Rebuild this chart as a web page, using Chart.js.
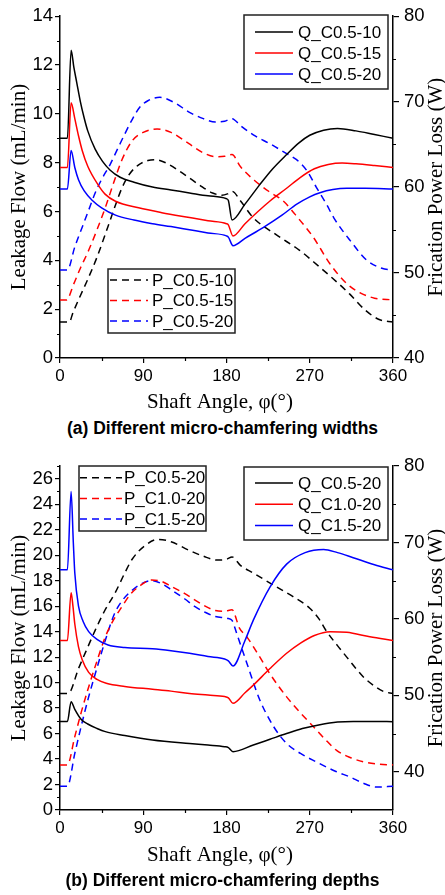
<!DOCTYPE html>
<html><head><meta charset="utf-8">
<script src="https://cdn.jsdelivr.net/npm/chart.js@4.4.1/dist/chart.umd.min.js"></script>
<style>
html,body{margin:0;padding:0;background:#fff;}
#wrap{position:relative;width:445px;height:895px;overflow:hidden;background:#fff;}
canvas{position:absolute;left:0;}
#ca{top:0;width:445px;height:415px;}
#cb{top:445px;width:445px;height:450px;}
.cap{position:absolute;left:0;width:445px;text-align:center;font:bold 17.5px "Liberation Sans",Arial,sans-serif;color:#000;line-height:20px;z-index:2;}
</style></head>
<body><div id="wrap">
<canvas id="ca" width="445" height="415"></canvas>
<div class="cap" style="top:418px">(a) Different micro-chamfering widths</div>
<canvas id="cb" width="445" height="450"></canvas>
<div class="cap" style="top:870px">(b) Different micro-chamfering depths</div>
</div>
<script>
// ---------- data: [shaft angle (deg), value] ----------
// chart (a) leakage flow (mL/min)
const Q_C05_10 = [[0,9.0],[8,9.0],[12,12.6],[15,11.9],[18,11.3],[22,10.5],[26,9.85],[30,9.3],[38,8.55],[46,8.05],[54,7.7],[65,7.4],[80,7.2],[100,7.0],[120,6.88],[140,6.76],[160,6.64],[180,6.52],[182,6.45],[186,5.65],[200,6.3],[216,7.1],[230,7.75],[245,8.33],[258,8.8],[270,9.12],[285,9.33],[300,9.4],[320,9.3],[340,9.15],[360,9.0]];
const Q_C05_15 = [[0,7.8],[8,7.8],[12,10.45],[16,9.8],[20,9.1],[24,8.5],[30,7.85],[41,7.1],[49,6.7],[60,6.42],[85,6.15],[110,5.95],[140,5.75],[160,5.62],[180,5.5],[182,5.45],[187,5.0],[200,5.5],[227,6.43],[245,6.95],[260,7.4],[275,7.75],[290,7.92],[305,7.98],[320,7.95],[340,7.88],[360,7.8]];
const Q_C05_20 = [[0,6.92],[8,6.92],[12,8.5],[16,7.8],[20,7.3],[26,6.85],[35,6.45],[45,6.15],[60,5.85],[80,5.65],[100,5.5],[120,5.38],[140,5.25],[160,5.12],[180,5.0],[182,4.95],[187,4.6],[200,4.9],[220,5.35],[240,5.85],[256,6.3],[270,6.6],[281,6.77],[295,6.9],[310,6.95],[330,6.95],[360,6.92]];
// chart (a) friction power loss (W)
const P_C05_10 = [[0,44.2],[10,44.2],[14,45.3],[20,46.8],[30,49.2],[40,51.8],[50,54.8],[60,57.9],[67,59.9],[75,61.5],[85,62.6],[95,63.1],[103,63.2],[115,62.8],[130,61.8],[150,60.3],[165,59.3],[175,59.05],[181,59.2],[186,59.5],[195,58.4],[209,56.4],[234,54.4],[259,52.6],[280,50.7],[295,49.3],[313,47.5],[330,45.6],[345,44.5],[360,44.2]];
const P_C05_15 = [[0,46.8],[7,46.8],[15,48.7],[22,50.5],[31,52.6],[40,55.0],[49,57.6],[58,60.5],[67,63.2],[78,65.4],[90,66.4],[105,66.8],[120,66.4],[139,65.1],[155,64.0],[168,63.55],[178,63.6],[186,63.8],[195,62.4],[210,60.8],[227,59.4],[241,58.4],[258,56.3],[274,54.1],[292,51.0],[310,48.7],[325,47.6],[340,47.0],[360,46.8]];
const P_C05_20 = [[0,50.3],[8,50.3],[16,53.0],[24,55.3],[31,57.3],[38,59.3],[45,60.9],[54,62.6],[62,64.4],[70,66.2],[78,67.9],[86,69.3],[95,70.1],[108,70.5],[125,69.8],[139,68.8],[155,68.0],[168,67.6],[178,67.7],[186,68.0],[195,67.2],[209,66.1],[228,65.0],[245,63.9],[258,63.0],[267,61.9],[277,60.0],[288,58.0],[296,56.4],[314,53.7],[332,51.4],[348,50.5],[360,50.3]];
// chart (b) leakage flow (mL/min)
const Q_C05_20b = [[0,6.95],[8,6.95],[12,8.5],[16,7.9],[23,7.1],[30,6.75],[40,6.4],[49,6.15],[70,5.85],[100,5.5],[140,5.22],[160,5.1],[178,4.97],[182,4.9],[187,4.58],[209,5.1],[227,5.55],[245,6.0],[262,6.4],[281,6.7],[300,6.9],[317,6.95],[340,6.95],[360,6.93]];
const Q_C10_20 = [[0,13.3],[8,13.3],[12,17.05],[14,16.0],[16,14.6],[20,12.8],[24,11.8],[31,10.8],[40,10.25],[50,9.95],[70,9.7],[100,9.48],[120,9.33],[140,9.15],[160,9.02],[178,8.9],[182,8.8],[187,8.37],[200,9.2],[209,9.8],[227,11.1],[245,12.3],[260,13.1],[275,13.7],[292,14.0],[310,13.95],[335,13.6],[360,13.3]];
const Q_C15_20 = [[0,18.85],[8,18.85],[12,25.0],[14.4,21.0],[16,18.6],[20,16.0],[25,14.8],[31,14.0],[40,13.4],[52,12.95],[70,12.75],[100,12.65],[120,12.5],[140,12.3],[160,12.05],[178,11.85],[182,11.7],[187,11.3],[200,13.3],[209,14.9],[227,17.5],[245,19.3],[265,20.2],[285,20.45],[300,20.2],[317,19.8],[340,19.25],[360,18.85]];
// chart (b) friction power loss (W)
const P_C05_20b = [[0,50.25],[9,50.25],[20,53.5],[30,56.3],[38,58.5],[48,61.0],[60,63.5],[70,66.0],[78,67.8],[92,69.6],[106,70.4],[120,70.1],[139,69.0],[155,68.2],[170,67.7],[180,67.8],[186,68.1],[195,67.0],[209,66.0],[231,64.4],[252,62.9],[270,61.4],[280,60.0],[288,58.4],[300,56.5],[310,55.0],[320,53.5],[328,52.4],[340,51.2],[350,50.5],[360,50.25]];
const P_C10_20 = [[0,40.9],[8,40.9],[16,44.6],[23,47.8],[31,51.1],[40,54.5],[49,57.65],[58,59.9],[67,61.6],[76,63.2],[85,64.2],[99,65.1],[110,64.9],[121,64.2],[135,63.3],[146,62.45],[158,61.6],[168,61.1],[178,61.0],[186,61.2],[194,58.8],[202,57.65],[215,55.2],[227,52.8],[245,49.8],[260,47.7],[274,45.9],[287,44.2],[299,42.8],[313,41.9],[328,41.3],[345,41.0],[360,40.9]];
const P_C15_20 = [[0,38.1],[8,38.1],[16,42.4],[23,46.0],[31,49.8],[40,53.6],[49,57.2],[59,60.7],[68,62.5],[78,63.75],[88,64.6],[99,65.0],[110,64.6],[121,63.75],[135,62.6],[146,61.6],[158,60.8],[168,60.3],[182,60.05],[186,59.8],[191,58.1],[202,54.2],[216,49.4],[231,45.9],[245,43.7],[260,42.4],[277,41.3],[299,40.0],[313,39.35],[328,38.5],[342,38.0],[360,38.1]];

// tick labels
const X_TICKS = [0,90,180,270,360];
const X_MINOR = [45,135,225,315];
const YA_TICKS = [0,2,4,6,8,10,12,14];
const YA_MINOR = [1,3,5,7,9,11,13];
const YB_TICKS = [0,2,4,6,8,10,12,14,16,18,20,22,24,26];
const YB_MINOR = [1,3,5,7,9,11,13,15,17,19,21,23,25,27];
const R_TICKS = [40,50,60,70,80];
const R_MINOR = [45,55,65,75];

const X_TITLE = 'Shaft Angle, φ(°)';
const Y_TITLE = 'Leakage Flow (mL/min)';
const R_TITLE = 'Frication Power Loss (W)';

const BLACK='#000000', RED='#ff0000', BLUE='#0000ff';
const DASH=[7,5];

function pts(a){ return a.map(p=>({x:p[0], y:p[1]})); }
function ds(label, arr, color, axis, dashed){
  return {label, data:pts(arr), borderColor:color, backgroundColor:color, yAxisID:axis,
    borderWidth:1.5, borderDash: dashed?DASH:[], pointRadius:0, fill:false,
    cubicInterpolationMode:'monotone'};
}

const extras = {
  id:'extras',
  afterDatasetsDraw(chart, args, o){
    const ctx = chart.ctx, ca = chart.chartArea;
    const sx = chart.scales.x, sy = chart.scales.y, sr = chart.scales.y1;
    ctx.save();
    ctx.strokeStyle='#000'; ctx.lineWidth=1.2;
    ctx.beginPath();
    o.minorX.forEach(v=>{const p=Math.round(sx.getPixelForValue(v))+0.5; ctx.moveTo(p,ca.bottom); ctx.lineTo(p,ca.bottom+3);});
    o.minorY.forEach(v=>{const p=Math.round(sy.getPixelForValue(v))+0.5; ctx.moveTo(ca.left-3,p); ctx.lineTo(ca.left,p);});
    o.minorR.forEach(v=>{const p=Math.round(sr.getPixelForValue(v))+0.5; ctx.moveTo(ca.right,p); ctx.lineTo(ca.right+3,p);});
    ctx.stroke();
    // axis titles
    ctx.fillStyle='#000';
    ctx.font='21px "Liberation Serif","Times New Roman",serif';
    ctx.textAlign='center'; ctx.textBaseline='middle';
    ctx.fillText(X_TITLE, o.xTitleX, o.xTitleY);
    const cy=(ca.top+ca.bottom)/2;
    ctx.save(); ctx.translate(o.yTitleX, cy); ctx.rotate(-Math.PI/2); ctx.fillText(Y_TITLE,0,0); ctx.restore();
    ctx.save(); ctx.translate(o.rTitleX, cy); ctx.rotate(-Math.PI/2); ctx.fillText(R_TITLE,0,0); ctx.restore();
    // legend boxes
    ctx.font='17px "Liberation Sans",Arial,sans-serif';
    ctx.textAlign='left';
    o.boxes.forEach(b=>{
      ctx.fillStyle='#fff'; ctx.fillRect(b.x,b.y,b.w,b.h);
      ctx.strokeStyle='#222'; ctx.lineWidth=1.5; ctx.setLineDash([]);
      ctx.strokeRect(b.x,b.y,b.w,b.h);
      b.items.forEach((idx,i)=>{
        const d=chart.data.datasets[idx]; const y=b.y0+i*b.dy;
        ctx.strokeStyle=d.borderColor; ctx.lineWidth=1.5; ctx.setLineDash(d.borderDash||[]);
        ctx.beginPath(); ctx.moveTo(b.lx0,y); ctx.lineTo(b.lx1,y); ctx.stroke();
        ctx.setLineDash([]);
        ctx.fillStyle='#000'; ctx.fillText(d.label, b.tx, y+1);
      });
    });
    ctx.restore();
  }
};

function makeChart(id, datasets, yMax, yTicks, rMin, padTop, xH, ex){
  return new Chart(document.getElementById(id), {
    type:'line',
    data:{datasets},
    plugins:[extras],
    options:{
      responsive:false, animation:false, devicePixelRatio:1,
      layout:{padding:{top:padTop,left:0,right:0,bottom:0}, autoPadding:false},
      plugins:{legend:{display:false}, tooltip:{enabled:false}, extras:ex},
      scales:{
        x:{type:'linear', min:0, max:360,
          afterBuildTicks:s=>{s.ticks=X_TICKS.map(v=>({value:v}));},
          afterFit:s=>{s.height=xH;},
          grid:{drawOnChartArea:false, tickLength:5, color:'#000', lineWidth:1.2},
          border:{display:true, color:'#000', width:1.5},
          ticks:{color:'#000', font:{family:'"Liberation Sans",Arial,sans-serif', size:17}, padding:3, maxRotation:0, autoSkip:false}},
        y:{type:'linear', position:'left', min:0, max:yMax,
          afterBuildTicks:s=>{s.ticks=yTicks.map(v=>({value:v}));},
          afterFit:s=>{s.width=60;},
          grid:{drawOnChartArea:false, tickLength:5, color:'#000', lineWidth:1.2},
          border:{display:true, color:'#000', width:1.5},
          ticks:{color:'#000', font:{family:'"Liberation Sans",Arial,sans-serif', size:18.5}, padding:2, autoSkip:false}},
        y1:{type:'linear', position:'right', min:rMin, max:80,
          afterBuildTicks:s=>{s.ticks=R_TICKS.map(v=>({value:v}));},
          afterFit:s=>{s.width=52;},
          grid:{drawOnChartArea:false, tickLength:6, color:'#000', lineWidth:1.2},
          border:{display:true, color:'#000', width:1.5},
          ticks:{color:'#000', font:{family:'"Liberation Sans",Arial,sans-serif', size:18.5}, padding:5, autoSkip:false}}
      }
    }
  });
}

makeChart('ca', [
  ds('Q_C0.5-10', Q_C05_10, BLACK, 'y', false),
  ds('Q_C0.5-15', Q_C05_15, RED, 'y', false),
  ds('Q_C0.5-20', Q_C05_20, BLUE, 'y', false),
  ds('P_C0.5-10', P_C05_10, BLACK, 'y1', true),
  ds('P_C0.5-15', P_C05_15, RED, 'y1', true),
  ds('P_C0.5-20', P_C05_20, BLUE, 'y1', true)
], 14, YA_TICKS, 40, 14, 57, {
  minorX:X_MINOR, minorY:YA_MINOR, minorR:R_MINOR,
  xTitleX:220, xTitleY:402, yTitleX:19, rTitleX:436,
  boxes:[
    {x:244,y:15,w:144,h:74,items:[0,1,2],y0:32,dy:21,lx0:255,lx1:293,tx:298},
    {x:108,y:269,w:127,h:64,items:[3,4,5],y0:280,dy:20.5,lx0:110,lx1:148,tx:152}
  ]
});

makeChart('cb', [
  ds('Q_C0.5-20', Q_C05_20b, BLACK, 'y', false),
  ds('Q_C1.0-20', Q_C10_20, RED, 'y', false),
  ds('Q_C1.5-20', Q_C15_20, BLUE, 'y', false),
  ds('P_C0.5-20', P_C05_20b, BLACK, 'y1', true),
  ds('P_C1.0-20', P_C10_20, RED, 'y1', true),
  ds('P_C1.5-20', P_C15_20, BLUE, 'y1', true)
], 27, YB_TICKS, 35, 21, 85, {
  minorX:X_MINOR, minorY:YB_MINOR, minorR:R_MINOR,
  xTitleX:220, xTitleY:410, yTitleX:19, rTitleX:436,
  boxes:[
    {x:79,y:21,w:127,h:65,items:[3,4,5],y0:32.7,dy:20.7,lx0:80,lx1:122,tx:124},
    {x:244,y:22,w:144,h:73,items:[0,1,2],y0:38,dy:21.3,lx0:255,lx1:293,tx:298}
  ]
});
</script>
</body></html>
